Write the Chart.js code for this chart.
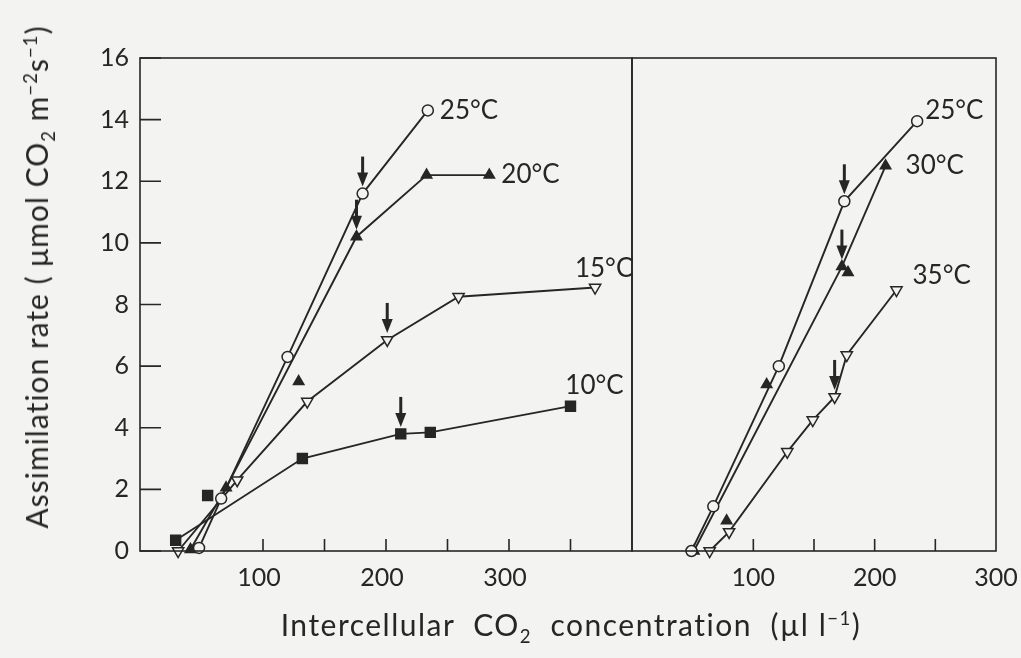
<!DOCTYPE html>
<html>
<head>
<meta charset="utf-8">
<script src="https://cdn.jsdelivr.net/npm/chart.js@4.4.0/dist/chart.umd.min.js"></script>
<style>
  html, body { margin: 0; padding: 0; background: #f3f3f1; }
  #wrap { position: relative; width: 1021px; height: 658px; overflow: hidden; font-family: Lato, "Open Sans", sans-serif; color: #262626; font-variant-ligatures: none; }
  #leftChart { position: absolute; left: 0; top: 0; }
  #rightChart { position: absolute; left: 630px; top: 0; }
  .ytitle { position: absolute; left: 36px; top: 277px; transform: translate(-50%, -50%) rotate(-90deg); white-space: pre; font-size: 30px; line-height: 36px; letter-spacing: 1px; }
  .xtitle { position: absolute; left: 571px; top: 624px; transform: translate(-50%, -50%); white-space: pre; font-size: 30px; line-height: 36px; letter-spacing: 1.5px; }
  sub, sup { font-size: 0.62em; line-height: 0; }
</style>
</head>
<body>
<div id="wrap">
  <canvas id="leftChart" width="634" height="658"></canvas>
  <canvas id="rightChart" width="391" height="658"></canvas>
  <div class="ytitle">Assimilation rate ( μmol CO<sub>2</sub> m<sup>−2</sup>s<sup>−1</sup>)</div>
  <div class="xtitle">Intercellular  CO<sub>2</sub>  concentration  (µl l<sup>−1</sup>)</div>
</div>
<script>
const ink = '#262626';
const paper = '#f3f3f1';

// left panel, 10–25 °C
const left25x = [48, 66, 120, 181, 234];
const left25y = [0.1, 1.7, 6.3, 11.6, 14.3];
const left20x = [41, 70, 129, 176, 233, 284];
const left20y = [0.05, 2.05, 5.5, 10.2, 12.2, 12.2];
const left15x = [31, 79, 136, 201, 259, 370];
const left15y = [0, 2.3, 4.85, 6.85, 8.25, 8.55];
const left10x = [29, 55, 132, 212, 236, 350];
const left10y = [0.35, 1.8, 3.0, 3.8, 3.85, 4.7];

// right panel, 25–35 °C
const right25x = [49, 67, 121, 175, 235];
const right25y = [0, 1.45, 6.0, 11.35, 13.95];
const right30x = [51, 78, 111, 173, 178, 209];
const right30y = [0, 0.98, 5.4, 9.23, 9.04, 12.5];
const right35x = [64, 80, 128, 149, 167, 177, 218];
const right35y = [0, 0.62, 3.22, 4.25, 5.0, 6.36, 8.47];

// axes
const yTicks = [0, 2, 4, 6, 8, 10, 12, 14, 16];
const leftTickMarks = [100, 150, 200, 250, 300, 350];
const rightTickMarks = [100, 150, 200, 250];
const leftTickLabels = [100, 200, 300];
const rightTickLabels = [100, 200, 300];

const markers = {
  openCircle: { style: 'circle', r: 5.5, rot: 0, fill: paper },
  filledTri: { style: 'triangle', r: 6, rot: 0, fill: ink },
  openTriDown: { style: 'triangle', r: 6.5, rot: 180, fill: paper },
  filledSquare: { style: 'rect', r: 7, rot: 0, fill: ink }
};

const leftSeries = [
  { name: '25°C', x: left25x, y: left25y, marker: 'openCircle', skip: [], arrow: 3, tag: { dx: 12, dy: 0, align: 'left' } },
  { name: '20°C', x: left20x, y: left20y, marker: 'filledTri', skip: [2], arrow: 3, tag: { dx: 12, dy: 0, align: 'left' } },
  { name: '15°C', x: left15x, y: left15y, marker: 'openTriDown', skip: [], arrow: 3, tag: { dx: 9, dy: -19, align: 'center' } },
  { name: '10°C', x: left10x, y: left10y, marker: 'filledSquare', skip: [1], arrow: 3, tag: { dx: 24, dy: -21, align: 'center' } }
];

const rightSeries = [
  { name: '25°C', x: right25x, y: right25y, marker: 'openCircle', skip: [], arrow: 3, tag: { dx: 8, dy: -11, align: 'left' } },
  { name: '30°C', x: right30x, y: right30y, marker: 'filledTri', skip: [1, 2, 4], arrow: 3, tag: { dx: 20, dy: 0, align: 'left' } },
  { name: '35°C', x: right35x, y: right35y, marker: 'openTriDown', skip: [], arrow: 4, tag: { dx: 16, dy: -14, align: 'left' } }
];

// frame, inward tick marks, arrows and temperature tags
function panelPlugin(series, xMarks, withYTicks) {
  return {
    id: 'panel',
    afterDatasetsDraw(chart) {
      const { ctx, chartArea: a, scales: { x, y } } = chart;
      ctx.save();
      ctx.strokeStyle = ink;
      ctx.fillStyle = ink;
      ctx.lineWidth = 1.6;
      ctx.strokeRect(a.left, a.top, a.right - a.left, a.bottom - a.top);

      ctx.beginPath();
      xMarks.forEach(v => {
        const px = x.getPixelForValue(v);
        ctx.moveTo(px, a.bottom);
        ctx.lineTo(px, a.bottom - 12);
      });
      if (withYTicks) {
        yTicks.forEach(v => {
          const py = y.getPixelForValue(v);
          ctx.moveTo(a.left, py);
          ctx.lineTo(a.left + 21, py);
        });
      }
      ctx.stroke();

      series.forEach(s => {
        const px = x.getPixelForValue(s.x[s.arrow]);
        const py = y.getPixelForValue(s.y[s.arrow]);
        ctx.beginPath();
        ctx.lineWidth = 3;
        ctx.moveTo(px, py - 37);
        ctx.lineTo(px, py - 18);
        ctx.stroke();
        ctx.beginPath();
        ctx.moveTo(px - 5.5, py - 21);
        ctx.lineTo(px + 5.5, py - 21);
        ctx.lineTo(px, py - 7);
        ctx.closePath();
        ctx.fill();

        const last = s.x.length - 1;
        const lx = x.getPixelForValue(s.x[last]);
        const ly = y.getPixelForValue(s.y[last]);
        ctx.font = '26px Lato, "Open Sans", sans-serif';
        ctx.textAlign = s.tag.align;
        ctx.textBaseline = 'middle';
        ctx.fillText(s.name, lx + s.tag.dx, ly + s.tag.dy);
      });
      ctx.restore();
    }
  };
}

function buildDatasets(series) {
  const out = [];
  series.forEach(s => {
    const pts = s.x.map((v, i) => ({ x: v, y: s.y[i] }));
    out.push({
      data: pts.filter((p, i) => !s.skip.includes(i)),
      showLine: true,
      borderColor: ink,
      borderWidth: 1.9,
      pointRadius: 0,
      tension: 0,
      clip: false,
      order: 1
    });
    const m = markers[s.marker];
    out.push({
      data: pts,
      showLine: false,
      pointStyle: m.style,
      pointRotation: m.rot,
      pointRadius: m.r,
      pointBackgroundColor: m.fill,
      pointBorderColor: ink,
      pointBorderWidth: 1.5,
      clip: false,
      order: 0
    });
  });
  return out;
}

const tickFont = { family: 'Lato, "Open Sans", sans-serif', size: 25 };

// tick spacing comes from an invisible tick length, so ticks.padding stays 0
// and does not eat into the plot width
const hiddenGrid = { display: false, drawTicks: true, tickLength: 12 };

new Chart(document.getElementById('leftChart'), {
  type: 'scatter',
  data: { datasets: buildDatasets(leftSeries) },
  options: {
    responsive: false,
    devicePixelRatio: 1,
    animation: false,
    events: [],
    layout: { autoPadding: false, padding: { top: 58, right: 2, left: 0, bottom: 0 } },
    plugins: { legend: { display: false }, tooltip: { enabled: false } },
    scales: {
      x: {
        type: 'linear', min: 0, max: 400,
        grid: hiddenGrid,
        border: { display: false },
        afterFit: s => { s.height = 107; },
        ticks: {
          stepSize: 50, autoSkip: false, maxRotation: 0, padding: 0, labelOffset: -4,
          color: ink, font: tickFont,
          callback: v => leftTickLabels.includes(v) ? String(v) : ''
        }
      },
      y: {
        min: 0, max: 16,
        grid: { display: false, drawTicks: true, tickLength: 11 },
        border: { display: false },
        afterFit: s => { s.width = 140; },
        ticks: { stepSize: 2, padding: 0, color: ink, font: tickFont }
      }
    }
  },
  plugins: [panelPlugin(leftSeries, leftTickMarks, true)]
});

new Chart(document.getElementById('rightChart'), {
  type: 'scatter',
  data: { datasets: buildDatasets(rightSeries) },
  options: {
    responsive: false,
    devicePixelRatio: 1,
    animation: false,
    events: [],
    layout: { autoPadding: false, padding: { top: 58, right: 25, left: 2, bottom: 0 } },
    plugins: { legend: { display: false }, tooltip: { enabled: false } },
    scales: {
      x: {
        type: 'linear', min: 0, max: 300,
        grid: hiddenGrid,
        border: { display: false },
        afterFit: s => { s.height = 107; },
        ticks: {
          stepSize: 50, autoSkip: false, maxRotation: 0, padding: 0,
          color: ink, font: tickFont,
          callback: v => rightTickLabels.includes(v) ? String(v) : ''
        }
      },
      y: { display: false, min: 0, max: 16 }
    }
  },
  plugins: [panelPlugin(rightSeries, rightTickMarks, false)]
});
</script>
</body>
</html>
